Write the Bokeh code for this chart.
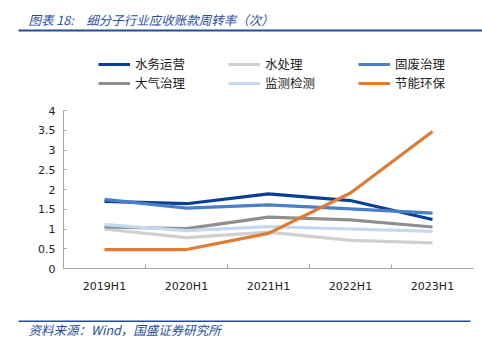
from bokeh.plotting import figure
from bokeh.models import (Range1d, FixedTicker, Legend, LegendItem, Label,
                          BoxAnnotation)
from bokeh.embed import file_html
from bokeh.resources import INLINE

categories = ["2019H1", "2020H1", "2021H1", "2022H1", "2023H1"]
series_names = ["水务运营", "水处理", "固废治理", "大气治理", "监测检测", "节能环保"]
water_ops = [1.70, 1.64, 1.89, 1.72, 1.24]
water_treat = [1.00, 0.78, 0.92, 0.71, 0.65]
solid_waste = [1.75, 1.53, 1.61, 1.51, 1.40]
air = [1.05, 1.01, 1.30, 1.23, 1.05]
monitor = [1.11, 0.96, 1.06, 1.00, 0.94]
energy = [0.48, 0.48, 0.89, 1.91, 3.47]
y_ticks = [0, 0.5, 1, 1.5, 2, 2.5, 3, 3.5, 4]

colors = ["#0a3f93", "#d0d0d0", "#4a7ec8", "#8f8f8f", "#c6d8ef", "#e07b32"]
all_series = [water_ops, water_treat, solid_waste, air, monitor, energy]

W, H = 482, 349
# pixel positions of the plot area inside the canvas
PL, PR, PT, PB = 63, 473, 110, 268
n = len(categories)
xpx = (PR - PL) / n          # pixels per category
ypx = (PB - PT) / 4.0        # pixels per unit
x0 = -0.5 - PL / xpx
x1 = n - 0.5 + (W - PR) / xpx
y0 = 0 - (H - PB) / ypx
y1 = 4 + PT / ypx

p = figure(width=W, height=H, output_backend="svg", toolbar_location=None,
           x_range=Range1d(x0, x1), y_range=Range1d(y0, y1),
           min_border=0, min_border_left=0, min_border_right=0,
           min_border_top=0, min_border_bottom=0)
p.outline_line_color = None
p.xgrid.visible = False
p.ygrid.visible = False
p.background_fill_color = "white"
p.border_fill_color = "white"

xs = list(range(n))
renderers = []
for vals, c in zip(all_series, colors):
    r = p.line(xs, vals, line_color=c, line_width=3.2, line_join="round")
    renderers.append(r)

# axes
ax = p.xaxis[0]
ax.fixed_location = 0
ax.bounds = (-0.5, n - 0.5)
ax.ticker = FixedTicker(ticks=xs, minor_ticks=[i + 0.5 for i in xs[:-1]])
ax.major_label_overrides = {i: c for i, c in enumerate(categories)}
ax.major_tick_in = 0
ax.major_tick_out = 0
ax.minor_tick_in = 4
ax.minor_tick_out = 0
ax.minor_tick_line_color = "#a6a6a6"
ax.axis_line_color = "#a6a6a6"
ax.major_label_standoff = 11
ax.major_label_text_font = "DejaVu Sans"
ax.major_label_text_font_size = "11px"
ax.major_label_text_color = "#222222"

ay = p.yaxis[0]
ay.fixed_location = -0.5
ay.bounds = (0, 4)
ay.ticker = FixedTicker(ticks=y_ticks)
ay.major_label_overrides = {t: ("%g" % t) for t in y_ticks}
ay.major_tick_in = 3
ay.major_tick_out = 0
ay.minor_tick_in = 0
ay.minor_tick_out = 0
ay.major_tick_line_color = "#a6a6a6"
ay.axis_line_color = "#a6a6a6"
ay.major_label_standoff = 8
ay.major_label_text_font = "DejaVu Sans"
ay.major_label_text_font_size = "11px"
ay.major_label_text_color = "#222222"

# legend: items filled column by column, so order them for row-wise reading
items = [LegendItem(label=nm, renderers=[r]) for nm, r in zip(series_names, renderers)]
order = [0, 3, 1, 4, 2, 5]
legend = Legend(items=[items[i] for i in order], ncols=3, location=(98, H - 92),
                glyph_width=32, glyph_height=16, label_width=93, label_height=16,
                label_standoff=5, spacing=0, padding=0, margin=0,
                border_line_color=None, background_fill_alpha=0,
                label_text_font="Noto Sans CJK SC", label_text_font_size="12.5px",
                label_text_color="#222222")
p.add_layout(legend, "center")

# title, footer and rules
blue = "#2a4e9b"
p.add_layout(Label(x=28, y=H - 19, x_units="screen", y_units="screen",
                   text="图表 18:\u3000细分子行业应收账款周转率（次）",
                   text_font="Noto Sans CJK SC", text_font_size="12.5px",
                   text_font_style="italic", text_color=blue,
                   text_baseline="alphabetic"))
p.add_layout(Label(x=28, y=H - 329, x_units="screen", y_units="screen",
                   text="资料来源：Wind，国盛证券研究所",
                   text_font="Noto Sans CJK SC", text_font_size="12.5px",
                   text_font_style="italic", text_color=blue,
                   text_baseline="alphabetic"))
p.add_layout(BoxAnnotation(left=18, right=482, top=29, bottom=31,
                           left_units="canvas", right_units="canvas",
                           top_units="canvas", bottom_units="canvas",
                           fill_color="#1f4e9f", fill_alpha=1, line_color=None))
p.add_layout(BoxAnnotation(left=18, right=470, top=320, bottom=321.5,
                           left_units="canvas", right_units="canvas",
                           top_units="canvas", bottom_units="canvas",
                           fill_color="#1f4e9f", fill_alpha=1, line_color=None))

open("out.html", "w").write(file_html(p, INLINE))
